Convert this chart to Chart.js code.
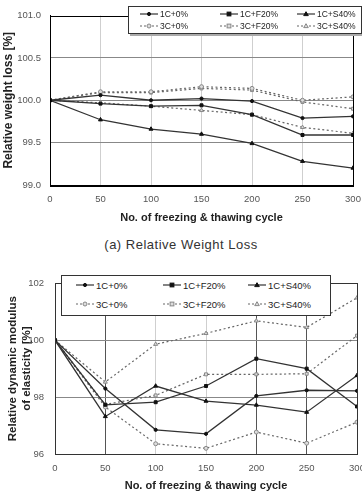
<!DOCTYPE html>
<html><head><meta charset="utf-8">
<script src="https://cdn.jsdelivr.net/npm/chart.js@4.4.1/dist/chart.umd.min.js"></script>
<style>
html,body{margin:0;padding:0;background:#fff;}
body{width:362px;height:497px;position:relative;overflow:hidden;font-family:"Liberation Sans",Arial,sans-serif;}
.wrap{position:absolute;left:0;}
.leg{position:absolute;background:#fff;border:1px solid #333;box-sizing:border-box;}
.li{position:absolute;display:flex;align-items:center;white-space:nowrap;color:#222;}
.li svg{margin-right:2px;}
#cap{position:absolute;left:0;width:362px;top:237px;text-align:center;font-size:13px;color:#333;letter-spacing:0.5px;}
</style></head>
<body>
<div class="wrap" style="top:0;width:362px;height:230px;"><canvas id="c1" width="362" height="230"></canvas></div>
<div id="cap">(a) Relative Weight Loss</div>
<div class="wrap" style="top:262px;width:362px;height:235px;"><canvas id="c2" width="362" height="235"></canvas></div>
<div id="leg1" class="leg" style="left:128px;top:6px;width:234px;height:28px;box-shadow:2px 2px 0 #aaa;"></div>
<div id="leg2" class="leg" style="left:61px;top:275px;width:270px;height:41px;"></div>
<script>
// ---- data ----
const cycles = [0, 50, 100, 150, 200, 250, 300];
const seriesNames = ['1C+0%', '1C+F20%', '1C+S40%', '3C+0%', '3C+F20%', '3C+S40%'];
// (a) relative weight loss [%]
const wl_1C0   = [100.00, 100.06, 100.00, 100.02,  99.99,  99.79,  99.81];
const wl_1CF20 = [100.00,  99.96,  99.93,  99.94,  99.83,  99.59,  99.59];
const wl_1CS40 = [100.00,  99.77,  99.66,  99.60,  99.49,  99.28,  99.20];
const wl_3C0   = [100.00, 100.10, 100.10, 100.16, 100.14, 100.00, 100.04];
const wl_3CF20 = [100.00, 100.09, 100.09, 100.14, 100.12,  99.98,  99.90];
const wl_3CS40 = [100.00,  99.97,  99.93,  99.88,  99.83,  99.68,  99.61];
// (b) relative dynamic modulus of elasticity [%]
const dm_1C0   = [100, 98.30, 96.85, 96.71, 98.04, 98.24, 98.22];
const dm_1CF20 = [100, 97.73, 97.82, 98.39, 99.35, 99.00, 97.67];
const dm_1CS40 = [100, 97.32, 98.39, 97.86, 97.72, 97.47, 98.76];
const dm_3C0   = [100, 97.65, 96.36, 96.20, 96.77, 96.38, 97.12];
const dm_3CF20 = [100, 97.74, 98.06, 98.80, 98.80, 98.82, 100.16];
const dm_3CS40 = [100, 98.53, 99.86, 100.24, 100.68, 100.45, 101.49];
const wlTicks = [99.0, 99.5, 100.0, 100.5, 101.0];
const dmTicks = [96, 98, 100, 102];

// ---- styles ----
const styles = [
  {shape:'circle', r:1.6, solid:true},
  {shape:'rect',   r:2.1, solid:true},
  {shape:'triangle', r:2.3, solid:true},
  {shape:'circle', r:2.0, solid:false},
  {shape:'rect',   r:2.1, solid:false},
  {shape:'triangle', r:2.3, solid:false}
];
function mk(name, vals, st){
  return {
    label:name,
    data: cycles.map((c,i)=>({x:c, y:vals[i]})),
    borderColor: st.solid ? '#333' : '#666',
    borderWidth: st.solid ? 1.3 : 1.2,
    borderDash: st.solid ? [] : [2,2.5],
    pointStyle: st.shape,
    pointRadius: st.r,
    pointBorderWidth: 1,
    pointBorderColor: st.solid ? '#111' : '#888',
    pointBackgroundColor: st.solid ? '#111' : '#ddd',
    tension:0, fill:false
  };
}
const framePlugin = {
  id:'frame',
  afterDraw(chart, args, opts){
    const {ctx, chartArea:a} = chart;
    ctx.save();
    ctx.strokeStyle = opts.color || '#000';
    ctx.lineWidth = 1;
    ctx.strokeRect(Math.round(a.left)+0.5, Math.round(a.top)+0.5, Math.round(a.right-a.left), Math.round(a.bottom-a.top));
    ctx.restore();
  }
};
function baseOptions(cfg){
  return {
    responsive:false, animation:false,
    layout:{padding:cfg.pad},
    plugins:{legend:{display:false}, tooltip:{enabled:false}, frame:{color:cfg.frame}},
    scales:{
      x:{type:'linear', min:0, max:300,
        afterBuildTicks(s){ s.ticks = cycles.map(v=>({value:v})); },
        afterFit(s){ s.height = cfg.xh; s.paddingLeft = 0; s.paddingRight = 0; },
        ticks:{padding:cfg.xtp, color:'#555', font:{family:'Liberation Sans', size:9.5}, maxRotation:0},
        grid:{drawTicks:false, color:cfg.xgrid, lineWidth:1},
        border:{color:'#000'},
        title:{display:true, text:'No. of freezing & thawing cycle', color:'#222',
          font:{family:'Liberation Sans', size:11, weight:'bold'}, padding:cfg.xtitlePad}
      },
      y:{min:cfg.ymin, max:cfg.ymax,
        afterBuildTicks(s){ s.ticks = cfg.yt.map(v=>({value:v})); },
        afterFit(s){ s.width = cfg.yw; s.paddingTop = 0; s.paddingBottom = 0; },
        ticks:{padding:cfg.ytp, color:'#555', font:{family:'Liberation Sans', size:9.5}, callback:cfg.ycb},
        grid:{drawTicks:false, color:cfg.ygrid, lineWidth:1},
        border:{color:'#000'},
        title:{display:true, text:cfg.ytitle, color:'#222',
          font:{family:'Liberation Sans', size:cfg.ytitleSize, weight:'bold'}, padding:cfg.ytitlePad}
      }
    }
  };
}
const wlSets = [wl_1C0, wl_1CF20, wl_1CS40, wl_3C0, wl_3CF20, wl_3CS40];
const dmSets = [dm_1C0, dm_1CF20, dm_1CS40, dm_3C0, dm_3CF20, dm_3CS40];

new Chart(document.getElementById('c1'), {
  type:'line',
  data:{datasets: seriesNames.map((n,i)=>mk(n, wlSets[i], styles[i]))},
  options: baseOptions({
    pad:{left:0, right:9, top:15.5, bottom:0}, xh:45, yw:50, xtp:9, ytp:9,
    ymin:99, ymax:101, yt:wlTicks, ycb:v=>Number(v).toFixed(1),
    xgrid:(c)=> (c.tick && (c.tick.value===0||c.tick.value===300)) ? 'rgba(0,0,0,0)' : '#cfcfcf',
    ygrid:(c)=> (c.tick && (c.tick.value===99||c.tick.value===101)) ? 'rgba(0,0,0,0)' : '#888',
    ytitle:'Relative weight loss [%]', ytitleSize:12, ytitlePad:{top:1,bottom:0},
    xtitlePad:{top:0,bottom:5}, frame:'#000'
  }),
  plugins:[framePlugin]
});
new Chart(document.getElementById('c2'), {
  type:'line',
  data:{datasets: seriesNames.map((n,i)=>mk(n, dmSets[i], styles[i]))},
  options: baseOptions({
    pad:{left:0, right:4, top:21.3, bottom:0}, xh:43, yw:55, xtp:9, ytp:11,
    ymin:96, ymax:102, yt:dmTicks, ycb:v=>String(v),
    xgrid:(c)=>{ const v=c.tick?c.tick.value:0; if(v===0||v===300) return 'rgba(0,0,0,0)'; return (v===100||v===150)?'#cfcfcf':'#555'; },
    ygrid:(c)=> (c.tick && (c.tick.value===96||c.tick.value===102)) ? 'rgba(0,0,0,0)' : '#888',
    ytitle:['Relative dynamic modulus','of elasticity [%]'], ytitleSize:11.5, ytitlePad:{top:6,bottom:0},
    xtitlePad:{top:0,bottom:4}, frame:'#333'
  }),
  plugins:[framePlugin]
});

// ---- HTML legends ----
function sample(st){
  const stroke = st.solid ? '#333' : '#666';
  const dash = st.solid ? '' : 'stroke-dasharray="2,2"';
  const mf = st.solid ? '#111' : '#ddd', ms = st.solid ? '#111' : '#888';
  let m='';
  if(st.shape==='circle') m=`<circle cx="9" cy="4" r="${st.r}" fill="${mf}" stroke="${ms}" stroke-width="1"/>`;
  else if(st.shape==='rect') m=`<rect x="${9-st.r*0.9}" y="${4-st.r*0.9}" width="${st.r*1.8}" height="${st.r*1.8}" fill="${mf}" stroke="${ms}" stroke-width="1"/>`;
  else m=`<polygon points="9,${4-st.r} ${9+st.r},${4+st.r*0.7} ${9-st.r},${4+st.r*0.7}" fill="${mf}" stroke="${ms}" stroke-width="1"/>`;
  return `<svg width="18" height="8" viewBox="0 0 18 8"><line x1="0" y1="4" x2="18" y2="4" stroke="${stroke}" stroke-width="1.2" ${dash}/>${m}</svg>`;
}
function buildLegend(id, box, cols, rows, fs){
  const el = document.getElementById(id);
  seriesNames.forEach((n,i)=>{
    const d = document.createElement('div');
    d.className='li';
    d.style.left = (cols[i%3]-box[0])+'px';
    d.style.top = (rows[Math.floor(i/3)]-box[1]-6)+'px';
    d.style.height='12px';
    d.style.fontSize = fs+'px';
    d.innerHTML = sample(styles[i]) + '<span>'+n+'</span>';
    el.appendChild(d);
  });
}
buildLegend('leg1', [129,7], [140,220,297], [13.5,26], 8.5);
buildLegend('leg2', [62,276], [76,163,248], [285,304], 9.5);
</script>
</body></html>
